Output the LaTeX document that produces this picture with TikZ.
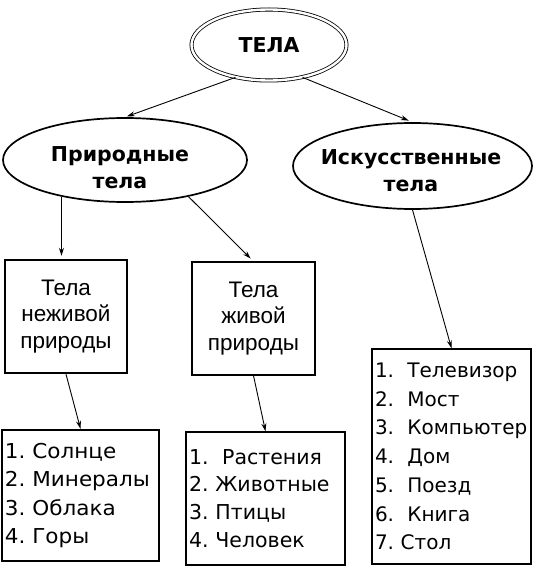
\documentclass[tikz,border=0pt]{standalone}
\usepackage{fontspec}
\setmainfont{Liberation Sans}
\newfontfamily\dejavu{DejaVu Sans}
\newfontfamily\dejavuwide[FakeStretch=1.05]{DejaVu Sans}
\usetikzlibrary{positioning,arrows.meta,shapes}

\begin{document}
\begin{tikzpicture}[
    x=1pt, y=-1pt,
    oval/.style={draw, ellipse, line width=1.7pt, inner sep=0pt},
    head/.style={font=\dejavu\bfseries\fontsize{20.5}{27}\selectfont, align=center},
    box/.style={draw, rectangle, line width=1.3pt, font=\fontsize{22.5}{26.5}\selectfont, align=center},
    list/.style={draw, rectangle, line width=1.4pt, font=\dejavu\fontsize{20}{28.7}\selectfont, align=left, inner sep=3pt},
    arrow/.style={-{Stealth[length=8pt,width=5pt]}, line width=0.9pt}
]

\useasboundingbox (0,0) rectangle (534,567);

% Top level
\node[oval, double, double distance=2.4pt, line width=0.8pt, minimum width=155pt, minimum height=71pt] (tela) at (269,45) {};
\node[head] (telatxt) at (tela) {ТЕЛА};

% Second level
\node[oval, minimum width=244pt, minimum height=84pt] (nat) at (125,160) {};
\node[head] (nattxt) at (120,168) {Природные\\тела};
\node[oval, minimum width=239pt, minimum height=86pt] (art) at (412.5,166) {};
\node[head] (arttxt) at (411,171) {Искусственные\\тела};

% Natural bodies
\node[box, line width=2.4pt, minimum width=122pt, minimum height=113pt] (dead) at (66,316.5) {Тела\\неживой\\природы};
\node[box, minimum width=123pt, minimum height=113pt] (alive) at (253.5,318.5) {Тела\\живой\\природы};

% Lists
\node[list, font=\dejavuwide\fontsize{20.5}{28.5}\selectfont, line width=2.4pt, text width=151pt, minimum height=131pt] (deadlist) at (80.5,495.5)
    {1.~Солнце\\2.~Минералы\\3.~Облака\\4.~Горы};
\node[list, font=\dejavu\fontsize{20.5}{27.8}\selectfont, text width=153pt, minimum height=133pt] (alivelist) at (265.5,498.5)
    {1.~~Растения\\2.~Животные\\3.~Птицы\\4.~Человек};
\node[list, text width=153pt, minimum height=215pt] (artlist) at (451.5,456.5)
    {1.~~Телевизор\\2.~~Мост\\3.~~Компьютер\\4.~~Дом\\5.~~Поезд\\6.~~Книга\\7.~Стол};

% Arrows
\draw[arrow, shorten >=2pt] (tela.224) -- (nat.north);
\draw[arrow, shorten >=4pt] (tela.316) -- (art.north);
\draw[arrow, shorten >=3pt] (nat.210) -- (nat.210 |- dead.north);
\draw[arrow, shorten >=4pt] (nat.330) -- (alive.north);
\draw[arrow] (art.south) -- (artlist.north);
\draw[arrow] (dead.south) -- (deadlist.north);
\draw[arrow] (alive.south) -- (alivelist.north);

\end{tikzpicture}
\end{document}
